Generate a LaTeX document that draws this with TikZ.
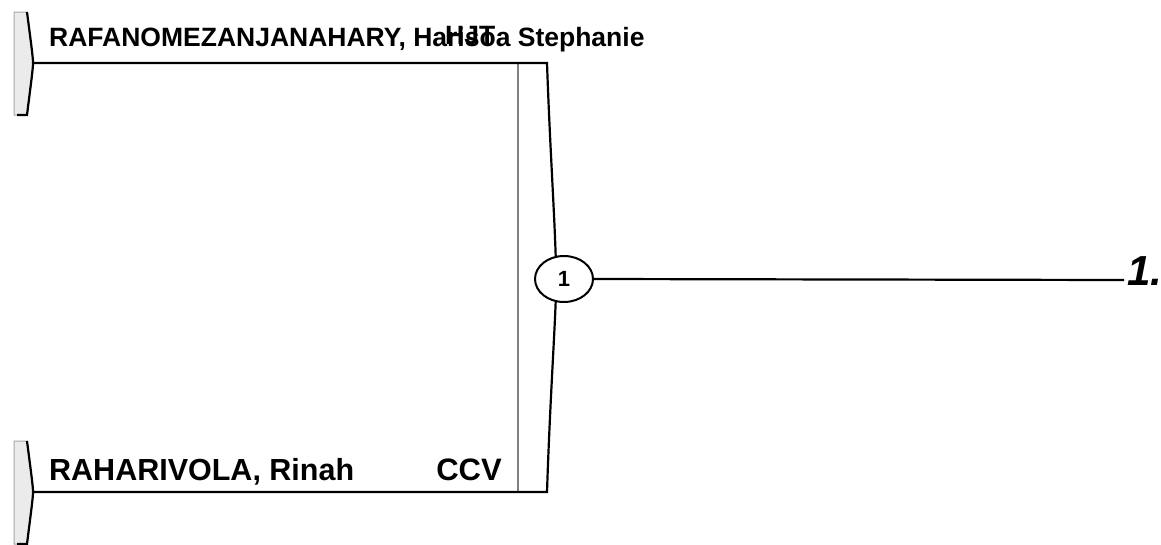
\documentclass[tikz,border=0pt]{standalone}
\usepackage{fontspec}
\setmainfont{Liberation Sans}
\usetikzlibrary{shapes.geometric,calc}
\newcommand{\lw}{2.2pt}
\newcommand{\fs}[1]{\bfseries\fontsize{#1}{#1}\selectfont}

\begin{document}
\begin{tikzpicture}[x=1pt,y=-1pt]
\useasboundingbox (0,0) rectangle (1161,544);
\coordinate (t) at (33,63);
\coordinate (b) at (33,492);
\coordinate (ul) at (518,63);
\coordinate (ur) at (547,63);
\coordinate (ll) at (518,492);
\coordinate (lr) at (547,492);
\coordinate (w) at (1124,280);

% brackets of the two entrants
\foreach \h in {t,b}{
\filldraw[gray!70,fill=black!8,line width=1pt] ($(\h)+(-19,-51)$) -- ($(\h)+(-6,-51)$) .. controls ($(\h)+(-2,-20)$) and ($(\h)+(0,-6)$) .. (\h) .. controls ($(\h)+(0,6)$) and ($(\h)+(-2,20)$) .. ($(\h)+(-6,52)$) -- ($(\h)+(-19,52)$) -- cycle;
\draw[line width=\lw] ($(\h)+(-6,-51)$) .. controls ($(\h)+(-2,-20)$) and ($(\h)+(0,-6)$) .. (\h) .. controls ($(\h)+(0,6)$) and ($(\h)+(-2,20)$) .. ($(\h)+(-6,52)$) -- ($(\h)+(-16,52)$);
}

% big bracket
\draw[gray,line width=1.2pt] (ul) -- (ll);
\draw[line width=\lw] (t) -- (ur) .. controls (550,150) and (555,220) .. (556,268);
\draw[line width=\lw] (b) -- (lr) .. controls (550,400) and (555,330) .. (556,292);

\node[ellipse,draw,line width=2pt,fill=white,inner sep=0pt,minimum width=58pt,minimum height=46pt,font=\fs{22}] (m1) at (564,279) {1};
\draw[line width=\lw] (m1.east) -- (w);
\node[anchor=base west,inner sep=0pt,font=\bfseries\itshape\fontsize{42}{42}\selectfont] (w1) at (1127,285) {1.};

% names
\node[anchor=base west,inner sep=0pt,font=\fs{26.5}] (n1) at (49,46) {RAFANOMEZANJANAHARY, Harisoa Stephanie};
\node[anchor=base west,inner sep=0pt,font=\fs{26.5}] (c1) at (445,44) {HJT};
\node[anchor=base west,inner sep=0pt,font=\fs{30.5}] (n2) at (49,480) {RAHARIVOLA, Rinah};
\node[anchor=base east,inner sep=0pt,font=\fs{31}] (c2) at (502,480) {CCV};
\end{tikzpicture}
\end{document}
